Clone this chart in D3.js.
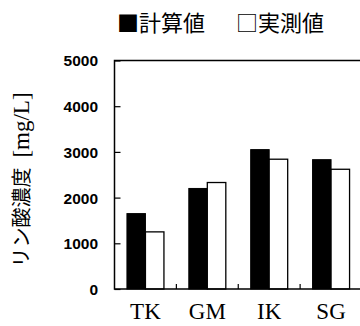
<!DOCTYPE html>
<html>
<head>
<meta charset="utf-8">
<script src="https://cdn.jsdelivr.net/npm/d3@7"></script>
<style>
  html, body { margin: 0; padding: 0; background: #fff; }
  svg { display: block; }
</style>
</head>
<body>
<svg id="chart" width="360" height="326"></svg>
<script>
// Phosphate concentration per site: calculated vs measured
const categories = ["TK", "GM", "IK", "SG"];
const calculated = [1650, 2200, 3050, 2830];
const measured = [1250, 2330, 2840, 2620];
const yTicks = [0, 1000, 2000, 3000, 4000, 5000];
const legendLabels = ["■計算値", "□実測値"];

const svg = d3.select("#chart");
const plot = { left: 114.5, right: 362, top: 60.5, bottom: 289 };

const x = d3.scaleBand().domain(categories).range([plot.left, plot.right]).padding(0);
const y = d3.scaleLinear().domain([0, 5000]).range([plot.bottom, plot.top]);
const barW = 18.5;

// bars: calculated (filled) left of the group centre, measured (open) right
const g = svg.append("g");
categories.forEach((c, i) => {
  const cx = x(c) + x.bandwidth() / 2;
  g.append("rect")
    .attr("x", cx - barW).attr("width", barW)
    .attr("y", y(calculated[i])).attr("height", y(0) - y(calculated[i]))
    .attr("fill", "#000").attr("stroke", "#000").attr("stroke-width", 1);
  g.append("rect")
    .attr("x", cx).attr("width", barW)
    .attr("y", y(measured[i])).attr("height", y(0) - y(measured[i]))
    .attr("fill", "#fff").attr("stroke", "#000").attr("stroke-width", 1.3);
});

// frame: left, top, bottom
svg.append("path")
  .attr("d", `M${plot.right},${plot.top}H${plot.left}V${plot.bottom}H${plot.right}`)
  .attr("fill", "none").attr("stroke", "#000").attr("stroke-width", 1.5);

// y axis: inward ticks, bold sans labels
const yAxis = d3.axisLeft(y).tickValues(yTicks).tickFormat(d3.format("d"))
  .tickSize(-6).tickPadding(17);
const ya = svg.append("g").attr("transform", `translate(${plot.left},0)`).call(yAxis);
ya.select(".domain").remove();
ya.selectAll(".tick line").attr("stroke", "#000").attr("stroke-width", 1.2);
ya.selectAll(".tick text")
  .attr("font-family", "'Liberation Sans', Arial, sans-serif")
  .attr("font-weight", "bold").attr("font-size", 15.5).attr("fill", "#000")
  .attr("x", 98 - plot.left).attr("dy", "0.35em");

// x axis: small upward ticks at group boundaries, serif category labels
const xa = svg.append("g").attr("transform", `translate(0,${plot.bottom})`)
  .call(d3.axisBottom(x).tickSize(0).tickPadding(0));
xa.select(".domain").remove();
xa.selectAll(".tick text")
  .attr("font-family", "'Liberation Serif', 'Times New Roman', serif")
  .attr("font-size", 23).attr("fill", "#000")
  .attr("y", 30).attr("dy", 0);
const bounds = categories.slice(1).map(c => x(c));
svg.append("g").selectAll("line").data(bounds).join("line")
  .attr("x1", d => d).attr("x2", d => d)
  .attr("y1", plot.bottom).attr("y2", plot.bottom - 5)
  .attr("stroke", "#000").attr("stroke-width", 1.2);

// y axis title
const yt = svg.append("text")
  .attr("transform", "translate(29,180) rotate(-90)")
  .attr("text-anchor", "middle").attr("fill", "#000");
yt.append("tspan")
  .attr("font-family", "'Noto Sans CJK JP', sans-serif")
  .attr("font-size", 20).text("リン酸濃度");
yt.append("tspan")
  .attr("font-family", "'Liberation Serif', 'Times New Roman', serif")
  .attr("font-size", 23).attr("dx", 10).text("[mg/L]");

// legend
const legendX = [117, 236];
svg.append("g").selectAll("text").data(legendLabels).join("text")
  .attr("x", (d, i) => legendX[i]).attr("y", 31)
  .attr("font-family", "'Noto Sans CJK JP', sans-serif")
  .attr("font-size", 22).attr("fill", "#000")
  .text(d => d);
</script>
</body>
</html>
